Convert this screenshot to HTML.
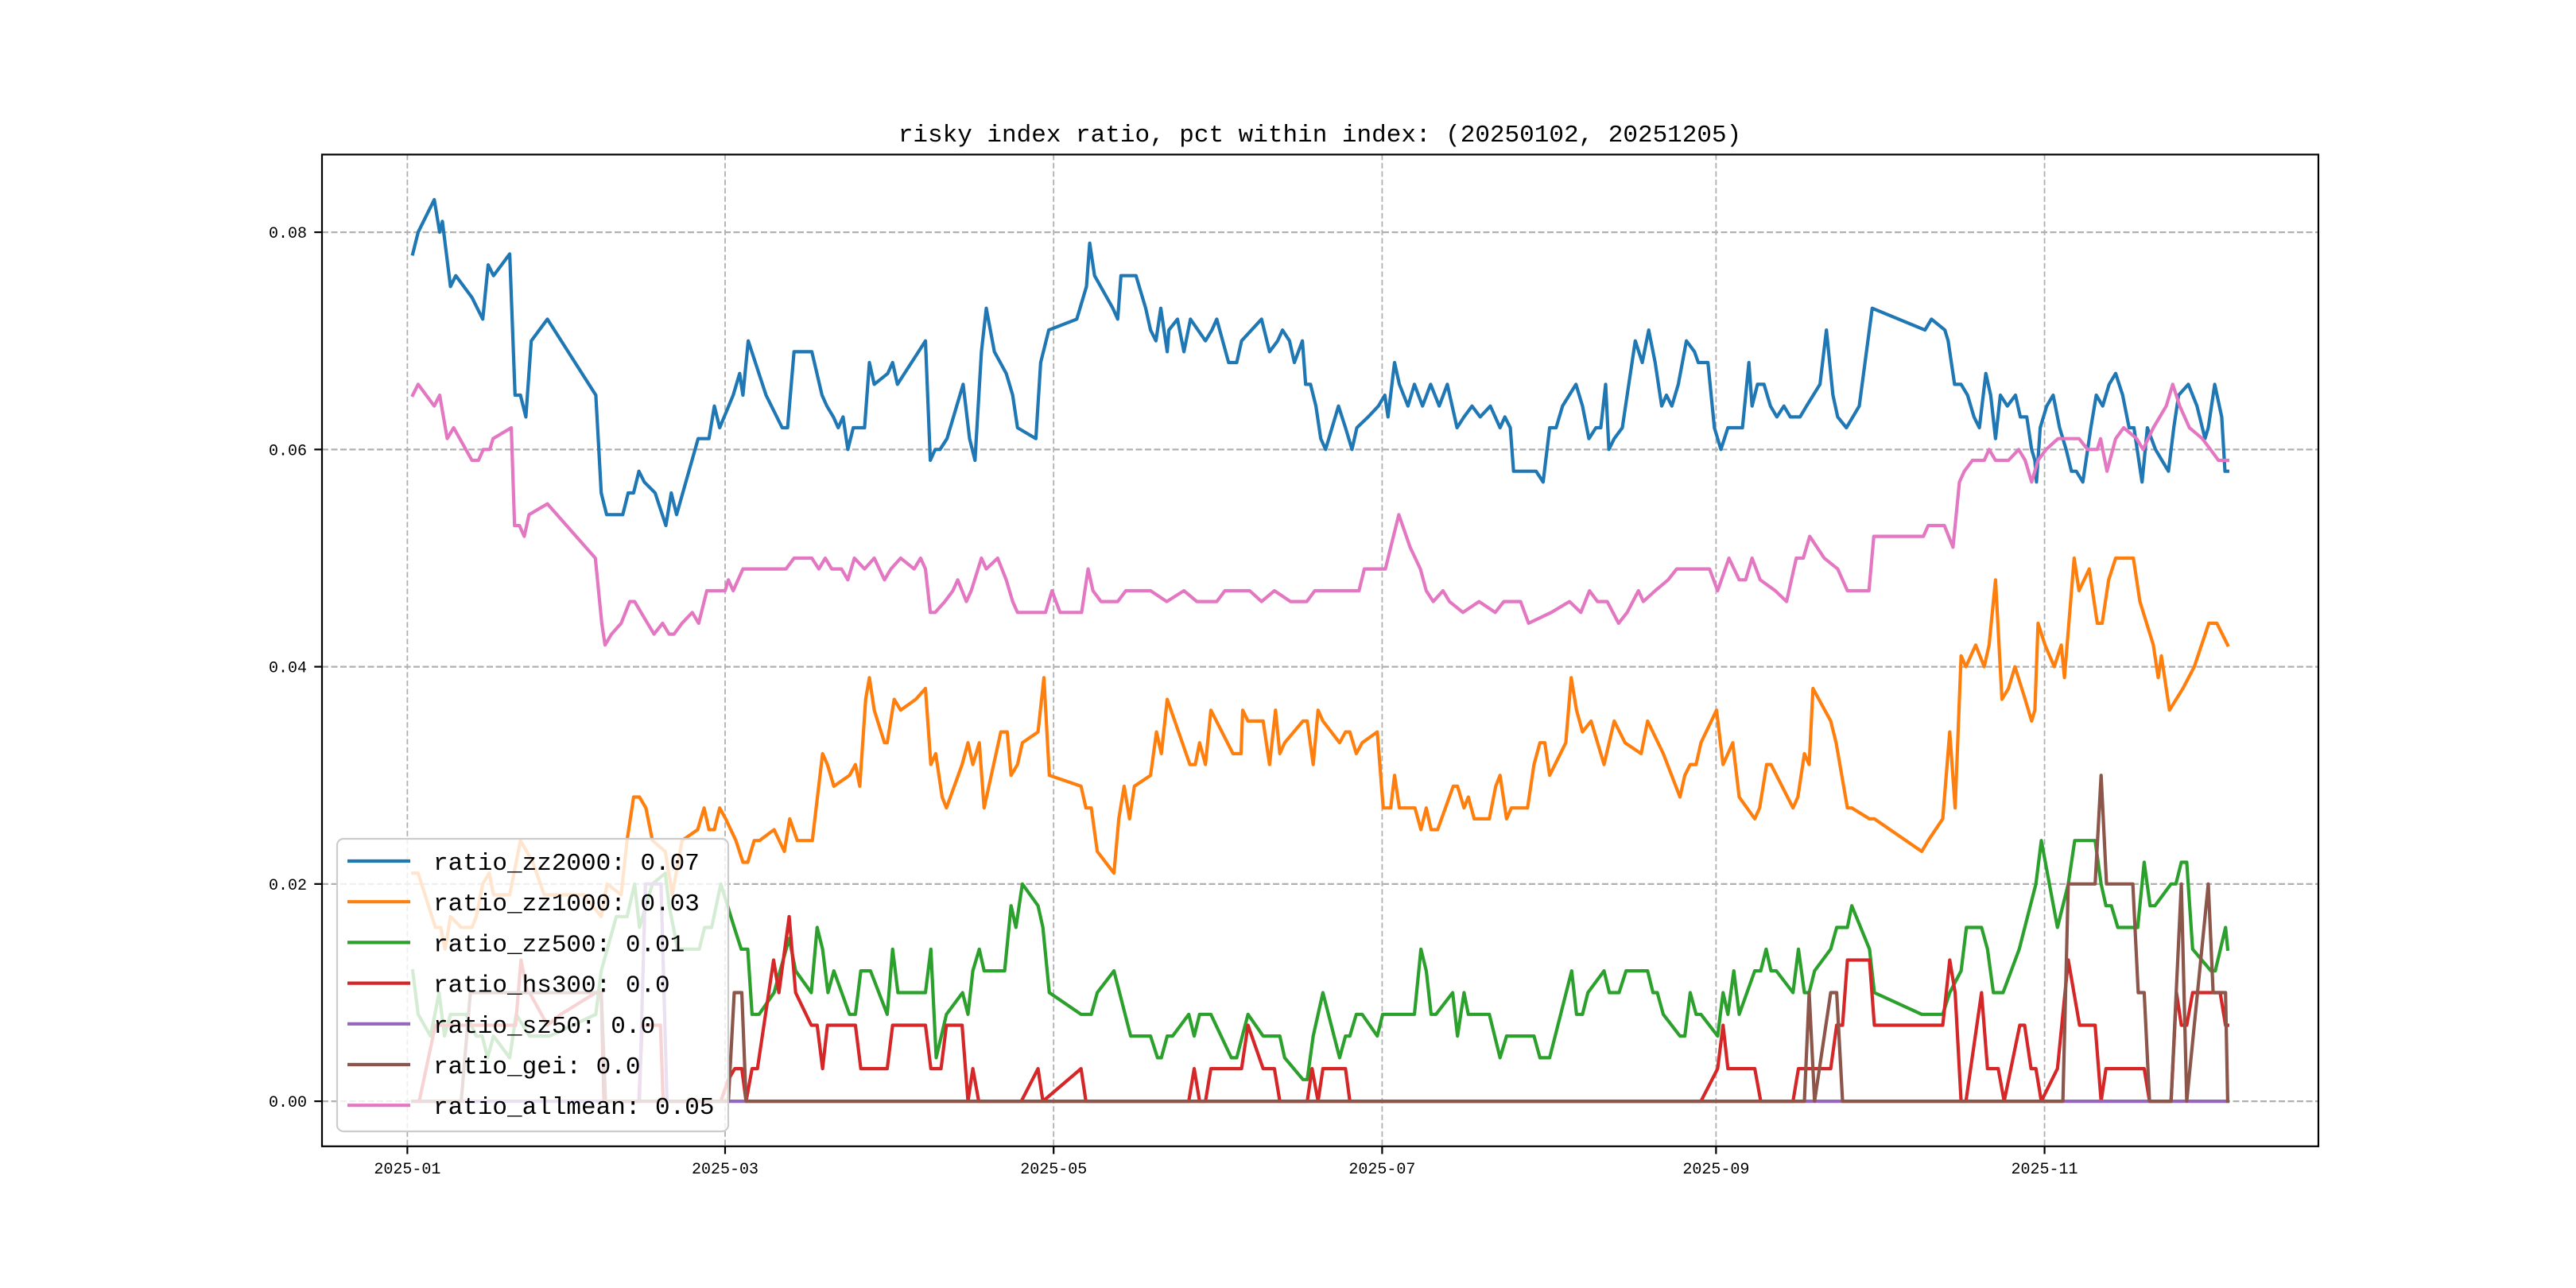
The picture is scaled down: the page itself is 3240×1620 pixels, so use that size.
<!DOCTYPE html>
<html><head><meta charset="utf-8"><style>html,body{margin:0;padding:0;background:#fff}svg{display:block}text{font-family:"Liberation Mono","Noto Sans CJK SC",monospace}</style></head>
<body>
<svg id="chart" xmlns="http://www.w3.org/2000/svg" width="3240" height="1620" viewBox="0 0 3240 1620">
<rect x="0" y="0" width="3240" height="1620" fill="#fff"/>
<text x="1660" y="178" font-size="31" text-anchor="middle" fill="#000">risky index ratio, pct within index: (20250102, 20251205)</text>
<g id="grid"></g>
<g id="series"></g>
<rect x="405" y="194.4" width="2511" height="1247.4" fill="none" stroke="#000" stroke-width="2.2"/>
<g id="axes"></g>
<g id="legend"></g>
</svg>
<script>
const xTickDays = [0, 59, 120, 181, 243, 304];
const xTickLabels = ["2025-01","2025-03","2025-05","2025-07","2025-09","2025-11"];
const yTickVals = [0, 20, 40, 60, 80];
const yTickLabels = ["0.00","0.02","0.04","0.06","0.08"];
const seriesNames = ["ratio_zz2000","ratio_zz1000","ratio_zz500","ratio_hs300","ratio_sz50","ratio_gei","ratio_allmean"];
const legendValues = ["0.07","0.03","0.01","0.0","0.0","0.0","0.05"];
const seriesColors = ["#1f77b4","#ff7f0e","#2ca02c","#d62728","#9467bd","#8c564b","#e377c2"];
// values in thousandths (0.001), days since 2025-01-01
const zz2000Days = [1,2,5,6,6.5,8,9,12,14,15,16,19,20,21,22,23,26,35,36,37,40,41,42,43,44,46,48,49,50,54,56,57,58,60.5,61.7,62.3,63.3,66.6,69.6,70.6,71.8,75.1,77,77.9,79.1,80,80.9,81.8,82.8,84.9,85.8,86.7,89.2,90.1,91,96.2,97.1,98,98.9,100.2,103.2,104.4,105.4,106.6,107.5,109,111.2,112.4,113.3,116.7,117.6,119.1,124.3,126.1,126.7,127.6,131,131.9,132.5,135.3,137.1,138,139,139.9,141.1,141.4,143,144.2,145.4,148.2,149.4,150.3,152.5,154,154.9,158.6,160.1,161.6,162.5,163.8,164.7,166.2,166.8,167.7,168.7,169.6,170.5,171.7,172.9,174.2,175.4,176.3,178.4,180.3,181.5,182.1,183.3,184.2,185.8,187,188.5,190,191.6,193.1,194.9,196.2,197.7,199.2,201.1,202.9,203.8,204.8,205.4,209.6,210.9,212.1,213.3,214.5,217,218.2,219.4,220.7,221.6,222.5,223.1,224.1,225.6,226.8,228,229.3,230.5,231.7,232.9,233.8,234.8,236,237.5,239,239.7,241.5,242.7,243.9,245.2,247.9,249.1,249.7,250.7,251.9,253.1,254.3,255.6,256.8,258.6,259.8,262.3,263.5,264.7,265.6,267.2,268.4,269.6,272,281.8,283,285.5,286.1,287.3,288.5,289.7,290.9,291.9,293.1,294,294.9,295.8,297.1,298.6,299.5,300.7,301.6,302.2,302.5,303.2,304.4,305.6,306.8,308,309,309.9,311.1,312.6,313.6,314.8,316,317.2,318.5,319.7,320.6,322.1,323.1,324.6,325.8,327,328,328.9,330.7,332.3,333.8,334.4,335.6,336.9,337.5,338];
const zz2000 = [78,80,83,80,81,75,76,74,72,77,76,78,65,65,63,70,72,65,56,54,54,56,56,58,57,56,53,56,54,61,61,64,62,65,67,65,70,65,62,62,69,69,65,64,63,62,63,60,62,62,68,66,67,68,66,70,59,60,60,61,66,61,59,69,73,69,67,65,62,61,68,71,72,75,79,76,73,72,76,76,73,71,70,73,69,71,72,69,72,70,71,72,68,68,70,72,69,70,71,70,68,70,66,66,64,61,60,62,64,62,60,62,63,64,65,63,68,66,64,66,64,66,64,66,62,63,64,63,64,62,63,62,58,58,57,62,62,64,66,64,61,62,62,66,60,61,62,66,70,68,71,68,64,65,64,66,70,69,68,68,62,60,62,62,68,64,66,66,64,63,64,63,63,64,66,71,65,63,62,63,64,73,71,72,71,70,66,66,65,63,62,67,65,61,65,64,65,63,63,60,59,57,62,64,65,62,60,58,58,57,62,65,64,66,67,65,62,62,57,62,60,59,58,62,65,66,64,61,62,66,63,58,58];
const zz1000Days = [1,2,5.2,6.2,7,8,10,12,12.8,14,15.2,16,19,21,23.3,25.4,32.8,36,37.1,39.7,40.8,42,43.1,44.3,45.5,47.9,49.2,51,53.9,55.1,56,57,58,59.1,61,62.3,63.2,64.4,65.4,68.1,70,71,72.4,75.2,77.1,78,79.2,82.1,83.2,84,85.1,85.8,86.7,88.6,89.1,90.4,91.6,94.4,96.2,97.2,98.1,99.3,100.1,103,104.1,105,106.2,107.1,110.2,111.4,112.1,113.3,114.2,117.1,118.2,119.2,125.1,126,127,128.1,131.2,132.1,133.1,134.1,135,138,139.1,140,141.1,142.5,145.3,146.3,147.1,148.2,149.2,153.3,154.8,155.1,156.1,158.9,160.1,161.2,162,162.9,166.3,167.1,168.2,169.1,170,173.1,174.2,175,176.2,177.3,180.1,181.2,182.6,183.3,184.2,187.1,188.2,189.2,190.1,191.3,194.2,195,196.2,197,198.1,200.9,202.1,202.9,204.1,205,208,209.2,210.3,211.2,212.1,215.1,216.1,217.1,218.2,219.8,222.2,224.1,226.1,229.1,230.3,233.2,236.3,237.2,238.2,239.3,240.2,243.1,244.3,246.1,247.3,250.2,251.1,252.4,253.2,257.3,258.2,259.4,260.3,261,264.3,265.3,267.4,268.2,271.5,272.4,281.2,282.4,285.1,286.4,287.4,288.5,289.4,291.2,292.8,293.7,294.9,296.1,297.3,298.5,300.4,301.6,302.2,302.8,304.1,305.8,307.1,307.7,309.5,310.4,312.3,313.8,314.7,315.9,317.2,320.5,321.7,324.2,325.1,325.7,327.2,329.7,331.8,334.5,336,338];
const zz1000 = [21,21,16,16,14,17,16,16,17,20,21,19,19,24,22,19,19,17,20,19,24,28,28,27,24,23,19,24,25,27,25,25,27,26,24,22,22,24,24,25,23,26,24,24,32,31,29,30,31,29,37,39,36,33,33,37,36,37,38,31,32,28,27,31,33,31,33,27,34,34,30,31,33,34,39,30,29,27,27,23,21,26,29,26,29,30,34,32,37,35,31,31,33,31,36,32,32,36,35,35,31,36,32,33,35,35,31,36,35,33,34,34,32,33,34,27,27,30,27,27,25,27,25,25,29,29,27,28,26,26,29,30,26,27,27,31,33,33,30,33,39,36,34,35,31,35,33,32,35,32,28,30,31,31,33,36,31,33,28,26,27,31,31,27,28,32,31,38,35,33,27,27,26,26,23,24,26,34,27,41,40,42,40,42,48,37,38,40,37,35,36,44,42,40,42,39,50,47,49,44,44,48,50,50,46,42,39,41,36,38,40,44,44,42];
const zz500Days = [1,2,4.3,5.9,6.9,8,10.9,12.8,13.9,14.9,16,19,20.2,22.7,26.4,35,36,38.8,40.8,42.2,43.1,45.5,47.9,48.6,50.2,54.2,55.2,56.5,58.2,60.7,62,63.2,64,65.3,68.1,70.9,72.1,75,76.1,77.1,78.1,79.2,82.1,83.2,84.2,86,89.1,90.1,91.1,96.2,97.2,98.2,100.1,103.1,104.1,105,106.2,107.1,110.9,112.1,113,114.2,117.1,118,119.2,125.1,127,128.1,131.2,134.3,138,139.3,140,141.1,142.1,145.1,146.1,147.1,149.2,153,154,156.1,158.9,162,162.9,166.3,167.1,168.2,170,173.1,174.2,175,176.2,177.3,180.1,181.1,187,188.2,189.2,190.1,191,194.1,195,196.2,197,200.9,202.9,204.1,209.2,210.3,212.1,216.2,217.1,218.2,219.2,222.2,223.2,225,226.3,230.3,231.3,232.1,233.2,236.3,237.2,238.2,239.3,240.2,243.3,244.3,245.2,246.3,247.3,250.2,251.3,252.3,253.2,254.2,257.3,258.3,259.4,260.3,261.3,264.3,265.4,267.4,268.2,271.5,272.4,281.2,285.1,286.4,288.5,289.5,292.3,293.4,294.5,296.3,299.3,302.4,303.4,306.4,308.4,309.6,313.4,314.5,315.4,316.4,317.6,321.3,322.5,323.6,324.5,327.5,328.4,329.4,330.4,331.5,334.9,335.7,337.6,338];
const zz500 = [12,8,6,10,6,8,8,6,6,4,6,4,8,6,6,8,12,17,17,20,16,20,21,18,14,14,16,16,20,16,14,14,8,8,10,15,12,10,16,14,10,12,8,8,12,12,8,14,10,10,14,4,8,10,8,12,14,12,12,18,16,20,18,16,10,8,8,10,12,6,6,4,4,6,6,8,6,8,8,4,4,8,6,6,4,2,2,6,10,4,6,6,8,8,6,8,8,14,12,8,8,10,6,10,8,8,4,6,6,4,4,12,8,8,10,12,10,10,12,12,10,10,8,6,6,10,8,8,6,10,8,12,8,12,12,14,12,12,10,14,10,10,12,14,16,16,18,14,10,8,8,10,12,16,16,14,10,10,14,20,24,16,20,24,24,20,18,18,16,16,22,18,18,20,20,22,22,14,12,12,16,14];
const hs300Days = [1,2.2,5.2,20.1,21.1,22.3,22.7,26,28.5,35,36,36.5,43,43.6,47,47.5,58.2,59.6,60.8,62.1,62.9,64,65,68,69,70.9,72.1,75,76.1,77.1,78,83.2,84.2,89.1,90.1,96.2,97.2,99.1,100.1,103,104.1,105,106.1,114,117.1,118,125.1,126,145.1,146.1,147.1,148.2,149.2,154.9,156.1,158.9,161,162,167.1,168,169.1,170,174.2,175,240.2,243.3,244.3,245.2,250.2,251.3,257.3,258.3,264.3,265.4,266.5,267.4,271.5,272.4,285.1,286.4,287.4,288.5,289.4,292.3,293.4,295.4,296.5,299.4,300.3,301.5,302.4,303.4,306.4,308.4,310.5,313.4,314.5,315.4,322.5,323.5,327.5,328.5,329.4,330.4,331.5,336.6,337.6,338];
const hs300 = [0,0,7,7,13,10,10,7,8,10,10,0,0,7,7,0,0,2,3,3,0,3,3,13,10,17,10,7,7,3,7,7,3,3,7,7,3,3,7,7,0,3,0,0,3,0,3,0,0,3,0,0,3,3,7,3,3,0,0,3,0,3,3,0,0,3,7,3,3,0,0,3,3,7,7,13,13,7,7,13,10,0,0,10,3,3,0,7,7,3,3,0,3,13,7,7,0,3,3,0,0,10,7,7,10,10,7,7];
const sz50Days = [1,43.1,44.2,47.1,48.2,338];
const sz50 = [0,0,20,20,0,0];
const geiDays = [1,10,11.7,36,36.8,59.6,60.7,62.1,62.9,259.4,260.3,261.3,264.3,265.4,266.5,307.4,308.4,313.4,314.5,315.5,320.4,321.4,322.5,323.5,327.5,329.4,330.4,334.4,335.3,337.6,338];
const gei = [0,0,10,10,0,0,10,10,0,0,10,0,10,10,0,0,20,20,30,20,20,10,10,0,0,20,0,20,10,10,0];
const allmeanDays = [1,2,5,6,7.4,8.6,12,13.2,14.1,15.3,15.9,19.3,19.9,20.8,21.7,22.6,26,34.9,36.1,36.7,37.9,39.7,41.3,42.2,43.4,45.8,47.4,48.6,49.5,51,52.9,54.1,55.6,59,59.6,60.5,62.3,66,70.3,71.8,75.1,76.4,77.6,78.8,80.6,81.8,83,84.9,86.7,88.6,89.8,91.6,94.1,95.3,96.2,97.1,98,99.8,101.3,102.2,103.8,104.7,106.6,107.5,109.6,111.2,112.4,113.3,118.5,119.7,121.2,125.2,126.4,127.3,128.8,131.9,133.4,138,141,144.2,146.6,150.3,151.8,156.4,158.6,161,164,167,168.5,176.7,177.7,181.6,182.6,184.1,186.2,188.1,189.2,190.5,192.3,193.5,196,199,202,203.6,206.7,208.2,212.4,215.8,217.9,219.5,221,222.8,224.9,226.5,228.6,229.5,231.7,234.1,235.7,241.8,243.3,245.4,247.3,248.5,249.7,251.2,254,256.1,257.9,259.2,260.4,263.1,265.6,267.4,271.4,272.3,281.5,282.4,285.4,287,288.2,289.1,290.6,292.8,293.7,294.9,297.3,299.2,300.4,301.6,302.8,304.3,306.5,310.4,312,313.8,314.4,315.6,317.2,318.7,321.1,322.3,324.2,326.6,327.8,329.1,330.9,333.3,334.8,336.3,338];
const allmean = [65,66,64,65,61,62,59,59,60,60,61,62,53,53,52,54,55,50,44,42,43,44,46,46,45,43,44,43,43,44,45,44,47,47,48,47,49,49,49,50,50,49,50,49,49,48,50,49,50,48,49,50,49,50,49,45,45,46,47,48,46,47,50,49,50,48,46,45,45,47,45,45,49,47,46,46,47,47,46,47,46,46,47,47,46,47,46,46,47,47,49,49,51,54,51,49,47,46,47,46,45,46,45,46,46,44,45,46,45,47,46,46,44,45,47,46,47,48,49,49,47,50,48,48,50,48,47,46,50,50,52,50,49,47,47,52,52,53,53,51,57,58,59,59,60,59,59,60,59,57,59,60,61,61,60,60,61,58,61,62,61,60,62,64,66,64,62,61,60,59,59];
const seriesDays = [zz2000Days, zz1000Days, zz500Days, hs300Days, sz50Days, geiDays, allmeanDays];
const seriesVals = [zz2000, zz1000, zz500, hs300, sz50, gei, allmean];

const NS = "http://www.w3.org/2000/svg";
const PL = 405, PR = 2916, PT = 194.4, PB = 1441.8;
const allD = [].concat(...seriesDays);
const allV = [].concat(...seriesVals);
const dMin = Math.min(...allD), dMax = Math.max(...allD);
const vMin = Math.min(...allV), vMax = Math.max(...allV);
const dPad = (dMax - dMin) * 0.05, vPad = (vMax - vMin) * 0.05;
function xScale(d) { return PL + (d - (dMin - dPad)) / ((dMax + dPad) - (dMin - dPad)) * (PR - PL); }
function yScale(v) { return PB - (v - (vMin - vPad)) / ((vMax + vPad) - (vMin - vPad)) * (PB - PT); }
function mk(tag, attrs, parent) {
  const e = document.createElementNS(NS, tag);
  for (const k in attrs) e.setAttribute(k, attrs[k]);
  parent.appendChild(e);
  return e;
}
const grid = document.getElementById("grid");
const axes = document.getElementById("axes");
const seriesG = document.getElementById("series");
const legend = document.getElementById("legend");

xTickDays.forEach((d, i) => {
  const x = xScale(d);
  const gl = mk("line", {x1: x, x2: x, y1: PT, y2: PB, stroke: "#b0b0b0", "stroke-width": 1.8, "stroke-dasharray": "7,3.5"}, grid);
  
  
  const t = mk("line", {x1: x, x2: x, y1: PB, y2: PB + 9.7, stroke: "#000", "stroke-width": 2.2}, axes);
  
  
  const lb = mk("text", {x: x, y: 1476, "font-size": 20, "text-anchor": "middle", fill: "#000"}, axes);
  lb.textContent = xTickLabels[i];
  
  
});
yTickVals.forEach((v, i) => {
  const y = yScale(v);
  const gl = mk("line", {x1: PL, x2: PR, y1: y, y2: y, stroke: "#b0b0b0", "stroke-width": 2.2, "stroke-dasharray": "8,3.5"}, grid);
  
  
  const t = mk("line", {x1: PL - 9.7, x2: PL, y1: y, y2: y, stroke: "#000", "stroke-width": 2.2}, axes);
  
  
  const lb = mk("text", {x: 386, y: y + 7, "font-size": 20, "text-anchor": "end", fill: "#000"}, axes);
  lb.textContent = yTickLabels[i];
  
  
});
seriesVals.forEach((vals, s) => {
  const days = seriesDays[s];
  const pts = vals.map((v, i) => xScale(days[i]).toFixed(1) + "," + yScale(v).toFixed(1)).join(" ");
  const pl = mk("polyline", {points: pts, fill: "none", stroke: seriesColors[s], "stroke-width": 4.2, "stroke-linejoin": "round", "stroke-linecap": "square"}, seriesG);
  
  
});
const box = mk("rect", {x: 424, y: 1055, width: 492, height: 368, rx: 8, ry: 8, fill: "#fff", "fill-opacity": 0.8, stroke: "#cccccc", "stroke-width": 2.2}, legend);


seriesNames.forEach((n, i) => {
  const cy = 1083 + i * 51.2;
  const ln = mk("line", {x1: 437, x2: 516, y1: cy, y2: cy, stroke: seriesColors[i], "stroke-width": 4.2}, legend);
  
  
  const tx = mk("text", {x: 545, y: cy + 11, "font-size": 31, fill: "#000"}, legend);
  tx.textContent = n + ": " + legendValues[i];
  
  
});
</script>
</body></html>
